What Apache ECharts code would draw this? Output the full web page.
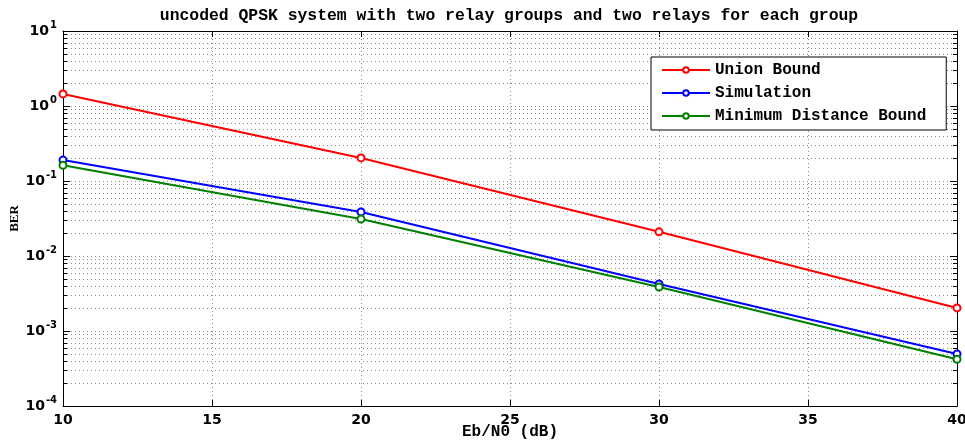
<!DOCTYPE html>
<html>
<head>
<meta charset="utf-8">
<script src="https://cdn.jsdelivr.net/npm/echarts@6/dist/echarts.min.js"></script>
<style>
  html, body { margin: 0; padding: 0; background: #fff; }
  #chart { width: 965px; height: 441px; }
</style>
</head>
<body>
<div id="chart"></div>
<script>
// Eb/N0 points (dB) and BER curves
const ebn0 = [10, 20, 30, 40];
const unionBound = [1.45, 0.203, 0.021, 0.00203];
const simulation = [0.19, 0.0386, 0.00423, 0.000493];
const minDistBound = [0.162, 0.0311, 0.00386, 0.00042];

const seriesNames = ['Union Bound', 'Simulation', 'Minimum Distance Bound'];
const seriesColors = ['#ff0000', '#0000ff', '#008000'];

// axis ranges
const xMin = 10, xMax = 40, xStep = 5;
const yMin = 1e-4, yMax = 10;
const decadeExponents = [-4, -3, -2, -1, 0];
const minorMantissas = [2, 3, 4, 5, 6, 7, 8, 9];

// minor log grid positions (2..9 x 10^k)
const minorTicks = [];
decadeExponents.forEach(function (k) {
  minorMantissas.forEach(function (m) { minorTicks.push(m * Math.pow(10, k)); });
});

const mono = 'Liberation Mono, Courier New, monospace';
const sans = 'DejaVu Sans, sans-serif';
const gridDot = { color: '#8c8c8c', width: 1, type: [1, 3] };

function pairs(vals) { return ebn0.map(function (x, i) { return [x, vals[i]]; }); }

const chart = echarts.init(document.getElementById('chart'));

const lineSeries = [unionBound, simulation, minDistBound].map(function (vals, i) {
  return {
    name: seriesNames[i],
    type: 'line',
    data: pairs(vals),
    symbol: 'emptyCircle',
    symbolSize: 7,
    color: seriesColors[i],
    lineStyle: { width: 2, color: seriesColors[i] },
    itemStyle: { color: seriesColors[i], borderColor: seriesColors[i], borderWidth: 1.5 },
    z: 5,
    animation: false
  };
});

const minorGrid = {
  type: 'custom',
  silent: true,
  z: 1,
  animation: false,
  data: minorTicks.map(function (v) { return [xMin, v]; }),
  renderItem: function (params, api) {
    const y = Math.round(api.coord([xMin, api.value(1)])[1]) + 0.5;
    const cs = params.coordSys;
    const x0 = cs.x, x1 = cs.x + cs.width;
    return {
      type: 'group',
      children: [
        { type: 'line', shape: { x1: x0, y1: y, x2: x1, y2: y },
          style: { stroke: '#8c8c8c', lineWidth: 1, lineDash: [1, 3] } },
        { type: 'line', shape: { x1: x0, y1: y, x2: x0 + 4, y2: y },
          style: { stroke: '#000', lineWidth: 1 } },
        { type: 'line', shape: { x1: x1 - 4, y1: y, x2: x1, y2: y },
          style: { stroke: '#000', lineWidth: 1 } }
      ]
    };
  }
};

chart.setOption({
  animation: false,
  backgroundColor: '#fff',
  title: {
    text: 'uncoded QPSK system with two relay groups and two relays for each group',
    left: 504,
    top: 3,
    textAlign: 'center',
    textStyle: { fontFamily: mono, fontWeight: 'bold', fontSize: 16.4, color: '#000' }
  },
  legend: {
    data: seriesNames,
    orient: 'vertical',
    left: 651,
    top: 57,
    itemWidth: 48,
    itemHeight: 7,
    itemGap: 7,
    padding: [5, 20, 6, 10],
    backgroundColor: '#fff',
    borderColor: '#000',
    borderWidth: 1,
    borderRadius: 0,
    textStyle: { fontFamily: mono, fontWeight: 'bold', fontSize: 16, color: '#000' }
  },
  grid: { left: 63, right: 8, top: 31, bottom: 35, outerBoundsMode: 'none' },
  xAxis: [{
    type: 'value',
    min: xMin, max: xMax, interval: xStep,
    name: 'Eb/N0 (dB)',
    nameLocation: 'middle',
    nameGap: 18,
    nameMoveOverlap: false,
    nameTextStyle: { fontFamily: mono, fontWeight: 'bold', fontSize: 16, color: '#000' },
    axisLine: { lineStyle: { color: '#000', width: 1 } },
    axisTick: { inside: true, length: 6, lineStyle: { color: '#000' } },
    axisLabel: { margin: 7, fontFamily: sans, fontWeight: 'bold', fontSize: 14, color: '#000' },
    splitLine: { show: true, lineStyle: gridDot }
  }, {
    type: 'value',
    position: 'top',
    min: xMin, max: xMax, interval: xStep,
    axisLine: { show: true, lineStyle: { color: '#000', width: 1 } },
    axisTick: { inside: true, length: 6, lineStyle: { color: '#000' } },
    axisLabel: { show: false },
    splitLine: { show: false }
  }],
  yAxis: [{
    type: 'log',
    logBase: 10,
    min: yMin, max: yMax,
    name: 'BER',
    nameLocation: 'middle',
    nameGap: 42,
    nameMoveOverlap: false,
    nameRotate: 90,
    nameTextStyle: { fontFamily: 'Liberation Serif, serif', fontWeight: 'bold', fontSize: 13, color: '#000' },
    axisLine: { show: true, lineStyle: { color: '#000', width: 1 } },
    axisTick: { inside: true, length: 7, lineStyle: { color: '#000' } },
    axisLabel: {
      margin: 6,
      formatter: function (v) {
        const e = Math.round(Math.log10(v));
        return '{b|10}{e|' + (e < 0 ? '-' : '') + Math.abs(e) + '}';
      },
      rich: {
        b: { fontFamily: sans, fontWeight: 'bold', fontSize: 14, color: '#000' },
        e: { fontFamily: sans, fontWeight: 'bold', fontSize: 10, color: '#000', padding: [0, 0, 11, 1] }
      }
    },
    splitLine: { show: true, lineStyle: gridDot }
  }, {
    type: 'log',
    logBase: 10,
    position: 'right',
    min: yMin, max: yMax,
    axisLine: { show: true, lineStyle: { color: '#000', width: 1 } },
    axisTick: { inside: true, length: 7, lineStyle: { color: '#000' } },
    axisLabel: { show: false },
    splitLine: { show: false }
  }],
  series: [minorGrid].concat(lineSeries)
});
</script>
</body>
</html>
